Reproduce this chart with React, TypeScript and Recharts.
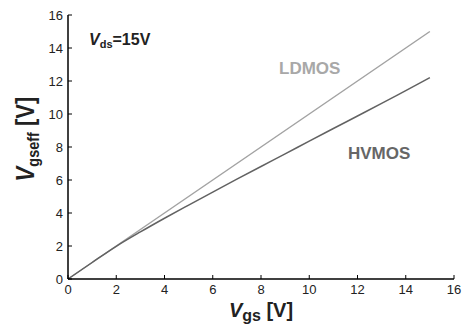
import React from 'react';
import { LineChart, Line, XAxis, YAxis, Label } from 'recharts';

// Vgs sweep and effective gate voltage for the two devices (Vds = 15V)
const vgs = [0, 1, 2, 3, 4, 5, 6, 7, 8, 9, 10, 11, 12, 13, 14, 15];
const ldmos = [0, 1, 2, 3, 4, 5, 6, 7, 8, 9, 10, 11, 12, 13, 14, 15];
const hvmos = [0, 1.0, 1.98, 2.85, 3.68, 4.48, 5.27, 6.05, 6.82, 7.58, 8.36, 9.12, 9.88, 10.64, 11.42, 12.2];

const xTicks = [0, 2, 4, 6, 8, 10, 12, 14, 16];
const yTicks = [0, 2, 4, 6, 8, 10, 12, 14, 16];

const data = vgs.map((v, i) => ({ vgs: v, ldmos: ldmos[i], hvmos: hvmos[i] }));

const FONT = '"Liberation Sans", Arial, sans-serif';
const TICK_LEN = 4;

const BottomTick = (props: any) => {
  const { x, y, payload } = props;
  return (
    <g>
      <line x1={x} y1={y} x2={x} y2={y - TICK_LEN} stroke="#000" strokeWidth={1} />
      <text x={x} y={y + 15} textAnchor="middle" fontSize={13} fill="#222" fontFamily={FONT}>
        {payload.value}
      </text>
    </g>
  );
};

const LeftTick = (props: any) => {
  const { x, y, payload } = props;
  return (
    <g>
      <line x1={x} y1={y} x2={x + TICK_LEN} y2={y} stroke="#000" strokeWidth={1} />
      <text x={x - 5} y={y} dy="0.35em" textAnchor="end" fontSize={13} fill="#222" fontFamily={FONT}>
        {payload.value}
      </text>
    </g>
  );
};

const TopTick = (props: any) => {
  const { x, y } = props;
  return <line x1={x} y1={y} x2={x} y2={y + TICK_LEN} stroke="#000" strokeWidth={1} />;
};

const RightTick = (props: any) => {
  const { x, y } = props;
  return <line x1={x} y1={y} x2={x - TICK_LEN} y2={y} stroke="#000" strokeWidth={1} />;
};

const XTitle = (props: any) => {
  const vb = props.viewBox;
  return (
    <text x={vb.x + vb.width / 2} y={vb.y + 38} textAnchor="middle" fontSize={20} fontWeight="bold" fill="#222" fontFamily={FONT}>
      <tspan fontStyle="italic">V</tspan>
      <tspan fontSize={16} dy={4}>gs</tspan>
      <tspan dy={-4}> [V]</tspan>
    </text>
  );
};

const YTitle = () => (
  <text
    transform="translate(34, 139) rotate(-90) scale(0.85, 1)"
    textAnchor="middle"
    fontSize={26}
    fontWeight="bold"
    fill="#222"
    fontFamily={FONT}
  >
    <tspan fontStyle="italic">V</tspan>
    <tspan fontSize={17} dy={5}>gseff</tspan>
    <tspan dy={-5}> [V]</tspan>
  </text>
);

const axisLine = { stroke: '#000', strokeWidth: 1.5 };

export default function App() {
  return (
    <div style={{ position: 'absolute', left: 0, top: 0, width: 462, height: 326, background: '#fff' }}>
      <LineChart width={462} height={326} data={data} margin={{ top: 15, right: 8, left: 0, bottom: 0 }}>
        <XAxis
          dataKey="vgs"
          type="number"
          domain={[0, 16]}
          ticks={xTicks}
          interval={0}
          height={47}
          tickSize={0}
          tickMargin={0}
          tickLine={false}
          axisLine={axisLine}
          tick={<BottomTick />}
        >
          <Label content={<XTitle />} />
        </XAxis>
        <XAxis
          xAxisId="top"
          orientation="top"
          type="number"
          domain={[0, 16]}
          ticks={xTicks.slice(1, -1)}
          interval={0}
          height={0}
          tickSize={0}
          tickMargin={0}
          tickLine={false}
          axisLine={axisLine}
          tick={<TopTick />}
        />
        <YAxis
          type="number"
          domain={[0, 16]}
          ticks={yTicks}
          interval={0}
          width={68}
          tickSize={0}
          tickMargin={0}
          tickLine={false}
          axisLine={axisLine}
          tick={<LeftTick />}
        >
          <Label content={<YTitle />} />
        </YAxis>
        <YAxis
          yAxisId="right"
          orientation="right"
          type="number"
          domain={[0, 16]}
          ticks={yTicks.slice(1, -1)}
          interval={0}
          width={0}
          tickSize={0}
          tickMargin={0}
          tickLine={false}
          axisLine={axisLine}
          tick={<RightTick />}
        />
        <Line type="monotone" dataKey="ldmos" stroke="#a3a3a3" strokeWidth={1.5} dot={false} isAnimationActive={false} />
        <Line type="monotone" dataKey="hvmos" stroke="#626262" strokeWidth={1.5} dot={false} isAnimationActive={false} />
      </LineChart>
      <svg width={462} height={326} style={{ position: 'absolute', left: 0, top: 0, pointerEvents: 'none' }}>
        <text x={89} y={45} fontSize={16} fontWeight="bold" fill="#222" fontFamily={FONT}>
          <tspan fontStyle="italic">V</tspan>
          <tspan fontSize={11} dy={3}>ds</tspan>
          <tspan dy={-3}>=15V</tspan>
        </text>
        <text x={279} y={74} fontSize={17} fontWeight="bold" fill="#a8a8a8" fontFamily={FONT}>
          LDMOS
        </text>
        <text x={348} y={159} fontSize={17} fontWeight="bold" fill="#666" fontFamily={FONT}>
          HVMOS
        </text>
      </svg>
    </div>
  );
}
